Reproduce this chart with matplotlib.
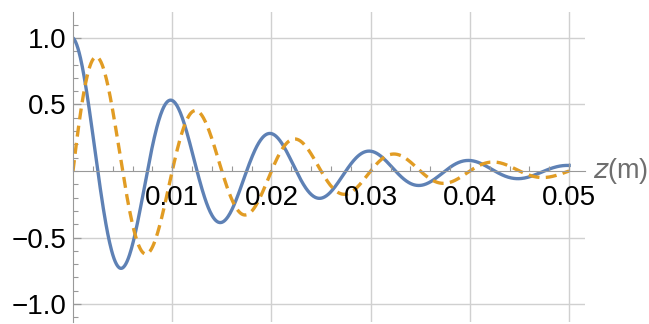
import numpy as np
import matplotlib.pyplot as plt
from matplotlib.ticker import MultipleLocator

# parameters
wavelength = 0.01      # m, blue peaks at 0.01, 0.02, ...
decay = 63.5           # 1/m, peak ratio ~0.53 per wavelength
z_max = 0.05

x_ticks = [0.01, 0.02, 0.03, 0.04, 0.05]
x_labels = ["0.01", "0.02", "0.03", "0.04", "0.05"]
y_ticks = [-1.0, -0.5, 0.5, 1.0]
y_labels = ["\u22121.0", "\u22120.5", "0.5", "1.0"]

z = np.linspace(0, z_max, 800)
k = 2 * np.pi / wavelength
real_part = np.exp(-decay * z) * np.cos(k * z)
imag_part = np.exp(-decay * z) * np.sin(k * z)

plt.rcParams['font.family'] = ['Liberation Sans', 'DejaVu Sans']

fig = plt.figure(figsize=(6.49, 3.24), dpi=100)
ax = fig.add_axes([73 / 649, 2 / 324, 512 / 649, 310 / 324])

blue = "#5E81B5"
orange = "#E19C24"
axcol = "#999999"

for t in x_ticks:
    ax.axvline(t, color="#d0d0d0", lw=1.0, zorder=1)
for t in y_ticks:
    ax.axhline(t, color="#d0d0d0", lw=1.0, zorder=1)

ax.plot(z, real_part, color=blue, lw=2.4, zorder=2)
ax.plot(z, imag_part, color=orange, lw=2.4, ls=(0, (3.3, 1.9)), zorder=2)

ax.set_xlim(0, 0.0516)
ax.set_ylim(-1.135, 1.195)

for s in ["top", "right"]:
    ax.spines[s].set_visible(False)
ax.spines["bottom"].set_position(("data", 0))
ax.spines["left"].set_color(axcol)
ax.spines["bottom"].set_color(axcol)

ax.set_xticks(x_ticks)
ax.set_xticklabels(x_labels)
ax.set_yticks(y_ticks)
ax.set_yticklabels(y_labels)
ax.xaxis.set_minor_locator(MultipleLocator(0.002))
ax.yaxis.set_minor_locator(MultipleLocator(0.1))
ax.tick_params(which="both", direction="in", color=axcol, labelsize=20, labelcolor="black")
ax.tick_params(which="major", length=6, width=0.9)
ax.tick_params(which="minor", length=3.5, width=0.8)
ax.tick_params(axis="x", pad=10)
ax.tick_params(axis="y", pad=5)
ax.xaxis.set_zorder(3)

ax.annotate("$\\it{z}$(m)", xy=(1, 0), xycoords=("axes fraction", "data"),
            xytext=(6, 0), textcoords="offset points", va="center", ha="left",
            fontsize=19.5, color="#6e6e6e", annotation_clip=False)

fig.savefig("out.png", dpi=100)
